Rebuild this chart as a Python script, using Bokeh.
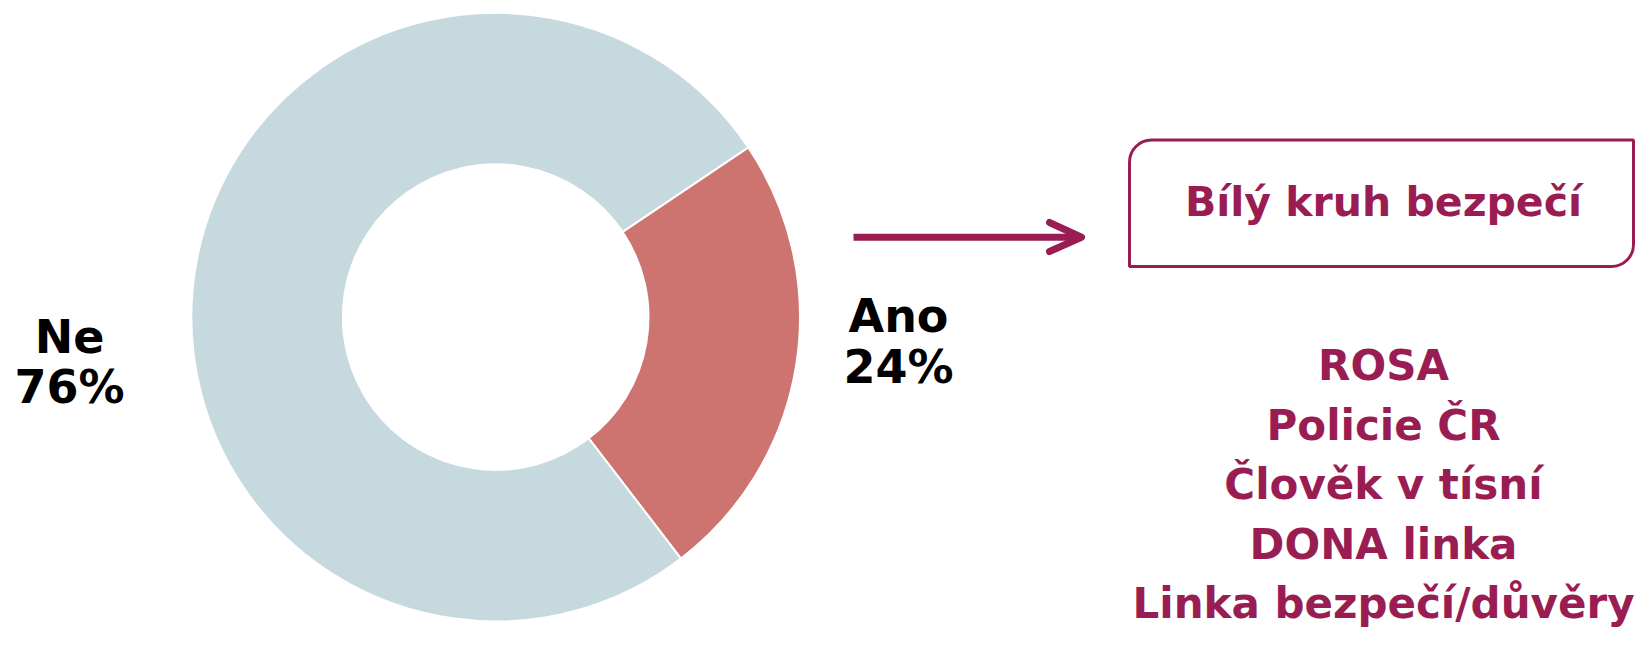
import math
from bokeh.plotting import figure
from bokeh.models import Range1d, BoxAnnotation, ColumnDataSource
from bokeh.core.properties import value
from bokeh.embed import file_html
from bokeh.resources import INLINE

# ---- data ----
categories = ["Ano", "Ne"]
shares = [24, 76]
slice_colors = ["#CD7470", "#C5D9DE"]
pct_labels = ["24%", "76%"]
box_title = "Bílý kruh bezpečí"
other_services = ["ROSA", "Policie ČR", "Člověk v tísní", "DONA linka", "Linka bezpečí/důvěry"]

# ---- style / layout ----
W, H = 1636, 629
ACC = "#991D53"
FONT = value("DejaVu Sans")
START_DEG = 33.9
CX, CY = 495.2, 645 - 316.6
R_OUT, R_IN = 304.3, 152.8
DY = 15  # text baseline correction (px)


def ty(b):
    return 645 - b + DY


p = figure(width=W, height=H, output_backend="svg", toolbar_location=None,
           x_range=Range1d(0, W), y_range=Range1d(645 - H, 645),
           min_border=0, outline_line_color=None, background_fill_color="white",
           border_fill_color="white")
p.axis.visible = False
p.grid.visible = False

# donut slices from the data
total = float(sum(shares))
starts, ends = [], []
a = math.radians(START_DEG)
for v in shares:
    starts.append(a)
    a -= 2 * math.pi * v / total
    ends.append(a)
src = ColumnDataSource(dict(cat=categories, start=starts, end=ends, color=slice_colors))
p.annular_wedge(x=CX, y=CY, inner_radius=R_IN, outer_radius=R_OUT,
                start_angle="start", end_angle="end", direction="clock",
                fill_color="color", line_color="white", line_width=2, source=src)

# slice labels
lab_pos = {"Ano": (898, 330, 381.7), "Ne": (69, 351.7, 401.7)}
for cat, pct in zip(categories, pct_labels):
    x, b1, b2 = lab_pos[cat]
    p.text(x=[x, x], y=[ty(b1), ty(b2)], text=[cat, pct], text_font=FONT,
           text_font_style="bold", text_font_size="46px", text_color="black",
           text_align="center", text_baseline="alphabetic")

# arrow
p.line(x=[853, 1079], y=[645 - 236.7, 645 - 236.7], line_color=ACC, line_width=7)
p.line(x=[1049, 1081, 1049], y=[645 - 222, 645 - 236.7, 645 - 251], line_color=ACC,
       line_width=7, line_cap="round", line_join="round")

# box
box = BoxAnnotation(left=1129, right=1633, top=645 - 139.5, bottom=645 - 266,
                    fill_color=None, fill_alpha=0, line_color=ACC, line_alpha=1.0,
                    line_width=3, border_radius=(22, 0, 22, 0))
p.add_layout(box)
p.text(x=[1383], y=[ty(216.7)], text=[box_title], text_font=FONT, text_font_style="bold",
       text_font_size="41px", text_color=ACC, text_align="center", text_baseline="alphabetic")

# list of other services
base_y = [380, 439.5, 499, 558.5, 618]
p.text(x=[1383] * len(other_services), y=[ty(b) for b in base_y], text=other_services,
       text_font=FONT, text_font_style="bold", text_font_size="42px", text_color=ACC,
       text_align="center", text_baseline="alphabetic")

open("out.html", "w").write(file_html(p, INLINE))
